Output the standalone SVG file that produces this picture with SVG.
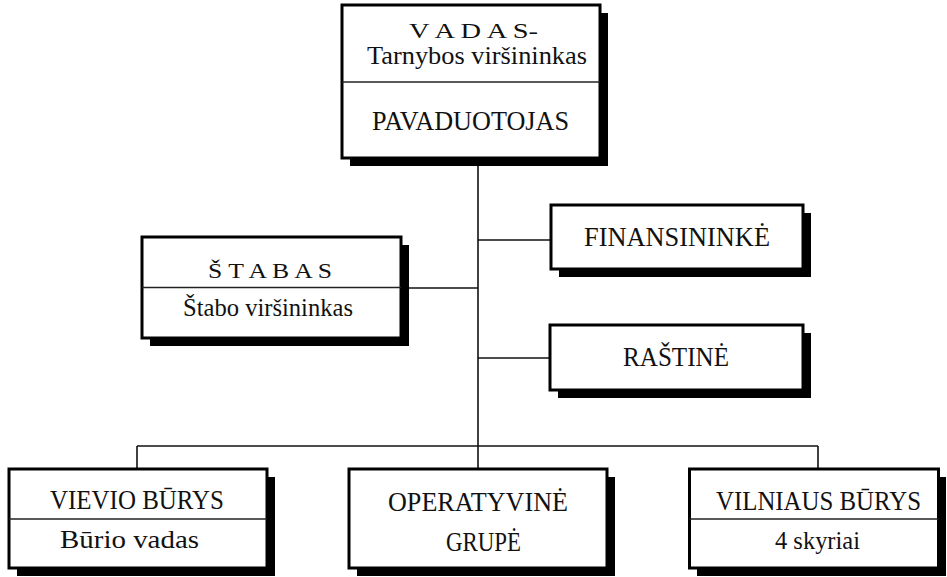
<svg xmlns="http://www.w3.org/2000/svg" width="947" height="577" viewBox="0 0 947 577">
<style>
.bg{fill:#fff}
.shadow{fill:#000}
.box{fill:#fff;stroke:#000;stroke-width:3}
.div{stroke:#222;stroke-width:1.5;fill:none}
.conn line{stroke:#111;stroke-width:1.6}
text{font-family:'Liberation Serif','Times New Roman',serif;fill:#111;text-anchor:middle;font-size:26px}
.caps{font-size:27px}
.sp{font-size:21px}
</style>
<rect class="bg" x="0" y="0" width="947" height="577"/>
<g id="connectors" class="conn">
<line x1="478" y1="158" x2="478" y2="446"/>
<line x1="478" y1="240" x2="551" y2="240"/>
<line x1="401" y1="288" x2="478" y2="288"/>
<line x1="478" y1="358" x2="550" y2="358"/>
<line x1="137" y1="446" x2="818" y2="446"/>
<line x1="137" y1="446" x2="137" y2="469"/>
<line x1="478" y1="446" x2="478" y2="469"/>
<line x1="818" y1="446" x2="818" y2="469"/>
</g>
<g id="vadas">
<rect class="shadow" x="350" y="13" width="258" height="153"/>
<rect class="box" x="342" y="5" width="258" height="153"/>
<line class="div" x1="342" y1="82" x2="600" y2="82"/>
<text class="sp" x="473.5" y="38" textLength="129" lengthAdjust="spacingAndGlyphs">V A D A S-</text>
<text x="477" y="64" textLength="220" lengthAdjust="spacingAndGlyphs">Tarnybos viršininkas</text>
<text class="caps" x="470.5" y="130" textLength="197" lengthAdjust="spacingAndGlyphs">PAVADUOTOJAS</text>
</g>
<g id="stabas">
<rect class="shadow" x="150" y="245" width="259" height="101"/>
<rect class="box" x="142" y="237" width="259" height="101"/>
<line class="div" x1="142" y1="287.5" x2="401" y2="287.5"/>
<text class="sp" x="270" y="278" textLength="124" lengthAdjust="spacingAndGlyphs">Š T A B A S</text>
<text x="268" y="316" textLength="170" lengthAdjust="spacingAndGlyphs">Štabo viršininkas</text>
</g>
<g id="finansininke">
<rect class="shadow" x="559" y="213" width="252" height="64"/>
<rect class="box" x="551" y="205" width="252" height="64"/>
<text class="caps" x="677" y="246" textLength="186" lengthAdjust="spacingAndGlyphs">FINANSININKĖ</text>
</g>
<g id="rastine">
<rect class="shadow" x="558" y="333" width="253" height="65"/>
<rect class="box" x="550" y="325" width="253" height="65"/>
<text class="caps" x="676" y="366" textLength="106" lengthAdjust="spacingAndGlyphs">RAŠTINĖ</text>
</g>
<g id="vievio">
<rect class="shadow" x="17" y="477" width="258" height="99"/>
<rect class="box" x="9" y="469" width="258" height="99"/>
<line class="div" x1="9" y1="519" x2="267" y2="519"/>
<text class="caps" x="137" y="509" textLength="174" lengthAdjust="spacingAndGlyphs">VIEVIO BŪRYS</text>
<text x="129.5" y="548" textLength="139" lengthAdjust="spacingAndGlyphs">Būrio vadas</text>
</g>
<g id="operatyvine">
<rect class="shadow" x="357" y="477" width="258" height="99"/>
<rect class="box" x="349" y="469" width="258" height="99"/>
<text class="caps" x="478" y="511" textLength="180" lengthAdjust="spacingAndGlyphs">OPERATYVINĖ</text>
<text class="caps" x="483.5" y="551" textLength="75" lengthAdjust="spacingAndGlyphs">GRUPĖ</text>
</g>
<g id="vilniaus">
<rect class="shadow" x="697" y="477" width="249" height="99"/>
<rect class="box" x="689.5" y="469" width="249" height="99"/>
<line class="div" x1="689.5" y1="519" x2="938.5" y2="519"/>
<text class="caps" x="818.5" y="510" textLength="205" lengthAdjust="spacingAndGlyphs">VILNIAUS BŪRYS</text>
<text x="817.5" y="549" textLength="85" lengthAdjust="spacingAndGlyphs">4 skyriai</text>
</g>
</svg>
